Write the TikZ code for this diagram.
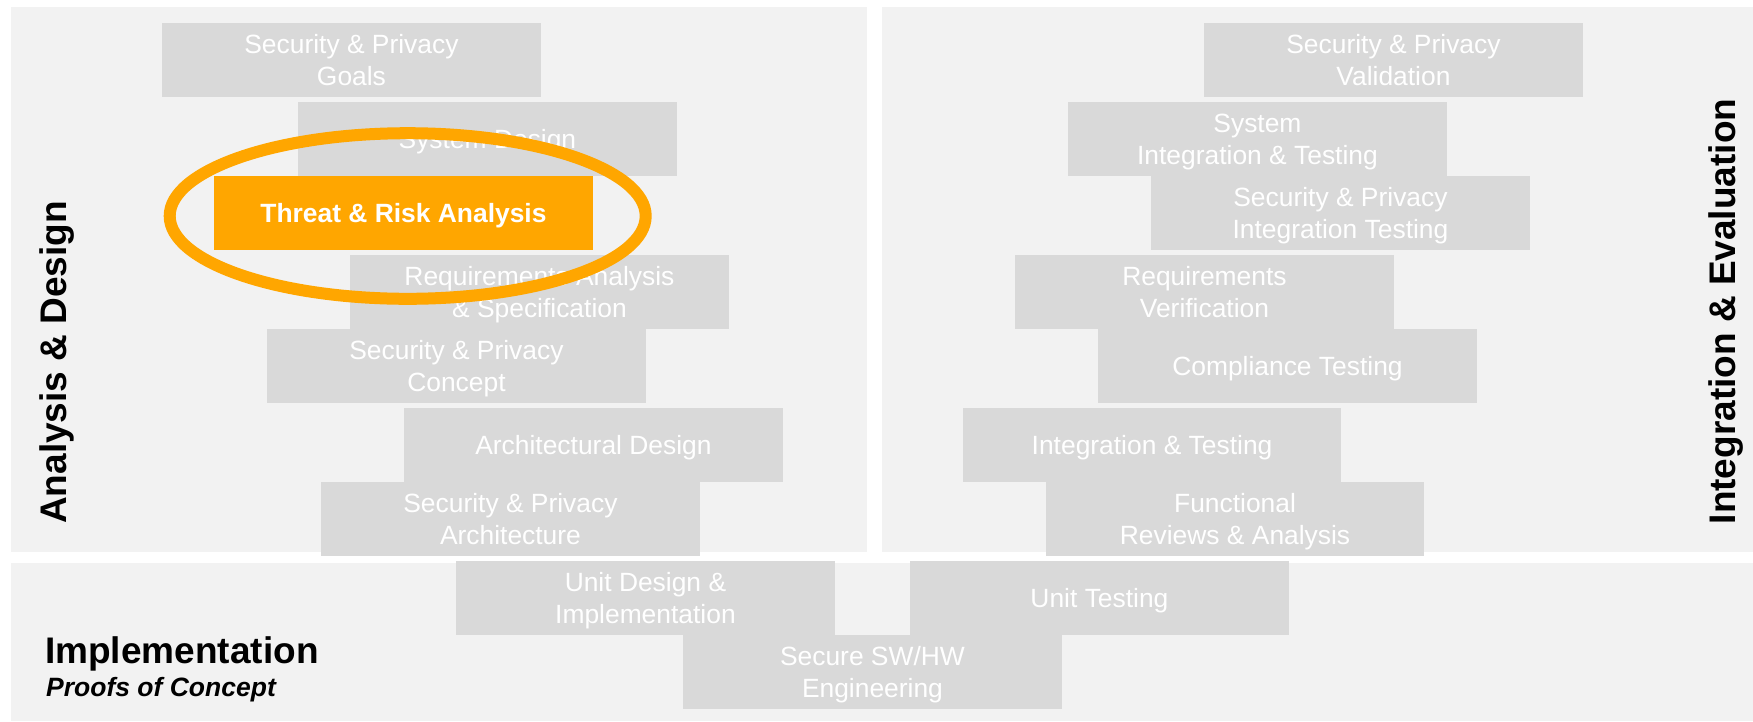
\documentclass[tikz,border=0pt]{standalone}
\usepackage{fontspec}
\setmainfont{Liberation Sans}
\definecolor{panelgray}{HTML}{F2F2F2}
\definecolor{boxgray}{HTML}{D9D9D9}
\definecolor{hiorange}{HTML}{FFA600}
\newcommand\phstrut{\rule[-5.1pt]{0pt}{29.5pt}}
\tikzset{
  panel/.style={fill=panelgray, draw=none},
  phase/.style={fill=boxgray, draw=none, anchor=north west, inner sep=0pt,
    minimum width=378.5pt, minimum height=73.8pt, align=center, text=white,
    font=\fontsize{26.4}{31.7}\selectfont},
  hilite/.style={phase, fill=hiorange, font=\fontsize{26.4}{31.7}\selectfont\bfseries},
  sidelabel/.style={rotate=90, anchor=base, inner sep=0pt,
    font=\fontsize{37}{44}\selectfont\bfseries},
}
\begin{document}
\begin{tikzpicture}[x=1pt,y=-1pt]
\useasboundingbox (0,0) rectangle (1753,721);
\fill[white] (0,0) rectangle (1753,721);
% panels
\fill[panel] (10.7,6.7) rectangle (866.7,551.7);
\fill[panel] (882.3,6.7) rectangle (1753,551.7);
\fill[panel] (10.7,562.7) rectangle (1753,721);
% left column
\node[phase] (goals) at (162,23) {\phstrut Security \& Privacy\\\phstrut Goals};
\node[phase] (sysdes) at (298,102) {\phstrut System Design};
\node[hilite] (tra) at (214,176) {\phstrut Threat \& Risk Analysis};
\node[phase] (reqana) at (350,255) {\phstrut Requirements Analysis\\\phstrut \& Specification};
\node[phase] (concept) at (267,329) {\phstrut Security \& Privacy\\\phstrut Concept};
\node[phase] (archdes) at (404,408) {\phstrut Architectural Design};
\node[phase] (sparch) at (321,482) {\phstrut Security \& Privacy\\\phstrut Architecture};
% bottom
\node[phase] (unitdes) at (456,561) {\phstrut Unit Design \&\\\phstrut Implementation};
\node[phase] (swhw) at (683,635) {\phstrut Secure SW/HW\\\phstrut Engineering};
\node[phase] (unittest) at (910,561) {\phstrut Unit Testing};
% right column
\node[phase] (valid) at (1204,23) {\phstrut Security \& Privacy\\\phstrut Validation};
\node[phase] (sysint) at (1068,102) {\phstrut System\\\phstrut Integration \& Testing};
\node[phase] (spint) at (1151,176) {\phstrut Security \& Privacy\\\phstrut Integration Testing};
\node[phase] (reqver) at (1015,255) {\phstrut Requirements\\\phstrut Verification};
\node[phase] (compl) at (1098,329) {\phstrut Compliance Testing};
\node[phase] (inttest) at (962.6,408) {\phstrut Integration \& Testing};
\node[phase] (funcrev) at (1045.6,482) {\phstrut Functional\\\phstrut Reviews \& Analysis};
% highlight ellipse
\draw[hiorange, line width=12pt] (407.7,216) ellipse [x radius=238, y radius=82.8];
% labels
\node[sidelabel] (lad) at (66.7,362.4) {Analysis \& Design};
\node[sidelabel] (lie) at (1735.5,311.5) {Integration \& Evaluation};
\node[anchor=base west, inner sep=0pt, font=\fontsize{37}{44}\selectfont\bfseries] (impl) at (45,663.3) {Implementation};
\node[anchor=base west, inner sep=0pt, font=\fontsize{26.5}{32}\selectfont\bfseries\itshape] (poc) at (46,696) {Proofs of Concept};
\end{tikzpicture}
\end{document}
